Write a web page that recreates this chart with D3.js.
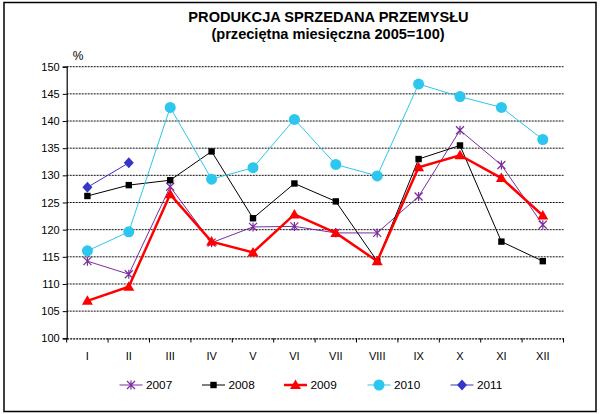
<!DOCTYPE html>
<html><head><meta charset="utf-8">
<script src="https://cdn.jsdelivr.net/npm/d3@7"></script>
<style>body{margin:0;background:#fff}svg{display:block;font-family:"Liberation Sans",Arial,sans-serif}</style>
</head><body><div id="chart"></div>
<script>
const months = ["I","II","III","IV","V","VI","VII","VIII","IX","X","XI","XII"];
const yTicks = [100,105,110,115,120,125,130,135,140,145,150];
const s2007 = [114.2,111.8,127.9,117.6,120.5,120.6,119.4,119.4,126.1,138.3,131.9,120.9];
const s2008 = [126.2,128.2,129.1,134.4,122.1,128.5,125.2,114.2,133.0,135.5,117.8,114.2];
const s2009 = [106.9,109.5,126.5,117.8,115.8,122.8,119.4,114.2,131.5,133.7,129.5,122.6];
const s2010 = [116.1,119.6,142.5,129.3,131.4,140.3,132.0,129.9,146.8,144.5,142.5,136.6];
const s2011 = [127.8,132.3];
const seriesNames = ["2007","2008","2009","2010","2011"];

const W = 600, H = 414;
const svg = d3.select("#chart").append("svg").attr("width", W).attr("height", H);
svg.append("rect").attr("x",4).attr("y",2.5).attr("width",592).attr("height",409)
  .attr("fill","#fff").attr("stroke","#000").attr("stroke-width",1.5);

const x = d3.scaleBand().domain(months).range([66.7, 563.5]);
const y = d3.scaleLinear().domain([100,150]).range([338.3, 66.7]);

// gridlines
svg.append("g").selectAll("line").data(yTicks.filter(v=>v>100)).join("line")
  .attr("x1",66.7).attr("x2",563.5).attr("y1",d=>y(d)).attr("y2",d=>y(d))
  .attr("stroke","#111").attr("stroke-width",1).attr("stroke-dasharray","2,1");

// y axis
const ya = svg.append("g").attr("transform","translate(66.7,0)")
  .call(d3.axisLeft(y).tickValues(yTicks).tickSize(4).tickPadding(3));
ya.select(".domain").attr("stroke","#000").attr("stroke-width",1.2);
ya.selectAll("text").attr("font-size","11px").attr("fill","#000");
// x axis
const xa = svg.append("g").attr("transform","translate(0,338.3)")
  .call(d3.axisBottom(x).tickSize(0).tickPadding(14));
xa.select(".domain").attr("stroke","#000").attr("stroke-width",1.2).attr("stroke-dasharray","2,1");
xa.selectAll("text").attr("font-size","11px").attr("fill","#000");
svg.append("g").selectAll("line").data(months.concat(["end"])).join("line")
  .attr("x1",(d,i)=>66.7+i*x.step()).attr("x2",(d,i)=>66.7+i*x.step())
  .attr("y1",338.3).attr("y2",342.5).attr("stroke","#000");

svg.append("text").attr("x",78).attr("y",60).attr("text-anchor","middle")
  .attr("font-size","12px").text("%");

svg.append("text").attr("x",328.5).attr("y",22).attr("text-anchor","middle")
  .attr("font-size","14.6px").attr("font-weight","bold").text("PRODUKCJA SPRZEDANA PRZEMYSŁU");
svg.append("text").attr("x",328).attr("y",39).attr("text-anchor","middle")
  .attr("font-size","14.6px").attr("font-weight","bold").text("(przeciętna miesięczna 2005=100)");

const cfg = [
  {name:"2007", data:s2007, color:"#7B2D9E", w:1, m:"star"},
  {name:"2008", data:s2008, color:"#000000", w:1, m:"square"},
  {name:"2009", data:s2009, color:"#FF0000", w:2.5, m:"triangle"},
  {name:"2010", data:s2010, color:"#2CC6EE", w:1, m:"circle"},
  {name:"2011", data:s2011, color:"#3636C8", w:1, m:"diamond"}
];
function marker(g, type, color, cx, cy){
  if(type==="square") g.append("rect").attr("x",cx-3.2).attr("y",cy-3.2).attr("width",6.4).attr("height",6.4).attr("fill",color);
  else if(type==="circle") g.append("circle").attr("cx",cx).attr("cy",cy).attr("r",5.5).attr("fill",color);
  else if(type==="triangle") g.append("path").attr("d",`M${cx},${cy-5.5}L${cx+5.5},${cy+4}L${cx-5.5},${cy+4}Z`).attr("fill",color);
  else if(type==="diamond") g.append("path").attr("d",`M${cx},${cy-5.5}L${cx+5},${cy}L${cx},${cy+5.5}L${cx-5},${cy}Z`).attr("fill",color);
  else if(type==="star") g.append("path").attr("d",`M${cx-4},${cy-4}L${cx+4},${cy+4}M${cx+4},${cy-4}L${cx-4},${cy+4}M${cx},${cy-4.5}L${cx},${cy+4.5}`).attr("stroke",color).attr("stroke-width",1.2).attr("fill","none");
}
const line = d3.line().x((d,i)=>x(months[i])+x.bandwidth()/2).y(d=>y(d));
cfg.forEach(c=>{
  const g = svg.append("g");
  g.append("path").attr("d",line(c.data)).attr("fill","none").attr("stroke",c.color).attr("stroke-width",c.w);
  c.data.forEach((v,i)=>marker(g,c.m,c.color,x(months[i])+x.bandwidth()/2,y(v)));
});

// legend
const legX = [119.5,202,284,367.5,450.5];
cfg.forEach((c,i)=>{
  const g = svg.append("g");
  const ly = 385;
  g.append("line").attr("x1",legX[i]).attr("x2",legX[i]+23).attr("y1",ly).attr("y2",ly).attr("stroke",c.color).attr("stroke-width",c.w);
  marker(g,c.m,c.color,legX[i]+11.5,ly);
  g.append("text").attr("x",legX[i]+26.5).attr("y",ly+4).attr("font-size","11.8px").text(seriesNames[i]);
});
</script></body></html>
